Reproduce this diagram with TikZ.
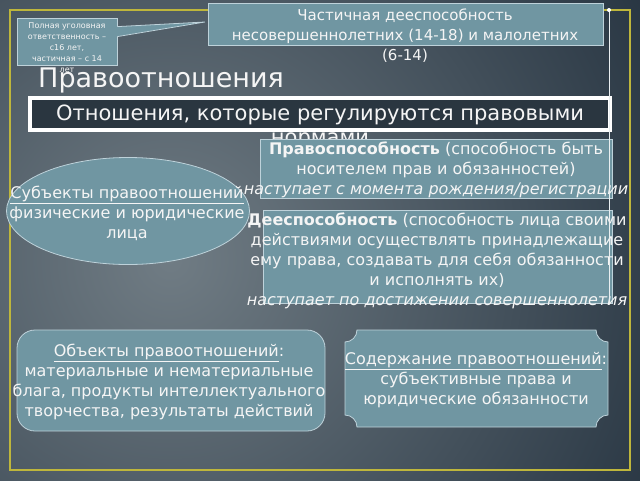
\documentclass[tikz,border=0pt]{standalone}
\usepackage{fontspec}
\setmainfont{DejaVu Sans}
\usetikzlibrary{shapes.geometric,positioning,calc}

\definecolor{bgin}{RGB}{112,124,132}
\definecolor{bgout}{RGB}{20,34,48}
\definecolor{frameyel}{RGB}{190,182,60}
\definecolor{panel}{RGB}{112,150,162}
\definecolor{panelline}{RGB}{190,210,218}
\definecolor{bandfill}{RGB}{42,54,64}
\definecolor{ink}{RGB}{245,245,245}

\begin{document}
\begin{tikzpicture}[x=1pt, y=-1pt,
    panelbox/.style={fill=panel, draw=panelline, line width=0.8pt, inner sep=0pt},
    txt/.style={text=ink, align=center, inner sep=0pt, font=\fontsize{16}{20}\selectfont},
    small/.style={txt, font=\fontsize{8}{11}\selectfont},
    band/.style={draw=white, line width=4pt, fill=bandfill, inner sep=0pt}]

  \useasboundingbox (0,0) rectangle (640,480);
  \begin{scope}
    \clip (0,0) rectangle (640,480);
    \shade[inner color=bgin, outer color=bgout] (170,260) circle (700);
  \end{scope}
  \draw[frameyel, line width=1.5pt] (10,10) rectangle (630,470);

  \node[txt, anchor=west, font=\fontsize{27}{32}\selectfont] (title) at (38,80) {Правоотношения};
  \node[band, minimum width=580pt, minimum height=32pt] (band) at (320,114) {};
  \node[txt, font=\fontsize{21}{24}\selectfont] (bandtext) at (320,127)
    {Отношения, которые регулируются правовыми\\нормами};

  \node[panelbox, ellipse, minimum width=243pt, minimum height=107pt] (subj) at (128,211) {};
  \node[txt] (subjtext) at (127,213)
    {\underline{Субъекты правоотношений}\\физические и юридические\\лица};

  \node[panelbox, minimum width=352pt, minimum height=59pt] (legcap) at (436,168.5) {};
  \node[panelbox, minimum width=349pt, minimum height=93pt] (actcap) at (437.5,256.5) {};
  \node[txt] (legcaptext) at (436,170)
    {\textbf{Правоспособность} (способность быть\\носителем прав и обязанностей)\\
     \textit{наступает с момента рождения/регистрации}};
  \node[txt] (actcaptext) at (437,261)
    {\textbf{Дееспособность} (способность лица своими\\действиями осуществлять принадлежащие\\
     ему права, создавать для себя обязанности\\и исполнять их)\\
     \textit{наступает по достижении совершеннолетия}};

  \node[panelbox, rounded corners=18pt, minimum width=308pt, minimum height=101pt] (obj) at (171,380.5) {};
  \node[txt] (objtext) at (169,382)
    {\underline{Объекты правоотношений}:\\материальные и нематериальные\\
     блага, продукты интеллектуального\\творчества, результаты действий};

  \filldraw[panelbox] (357,330) -- (596,330) arc[start angle=180, end angle=90, radius=12]
    -- (608,415) arc[start angle=270, end angle=180, radius=12]
    -- (357,427) arc[start angle=0, end angle=-90, radius=12]
    -- (345,342) arc[start angle=90, end angle=0, radius=12] -- cycle;
  \node[txt] (content) at (476,380)
    {\underline{Содержание правоотношений}:\\субъективные права и\\юридические обязанности};

  \node[panelbox, minimum width=395pt, minimum height=42pt] (minor) at (405.5,24) {};
  \node[txt, font=\fontsize{15}{20}\selectfont] (minortext) at (405,36)
    {Частичная дееспособность\\несовершеннолетних (14-18) и малолетних\\(6-14)};

  \node[panelbox, minimum width=100pt, minimum height=47pt] (note) at (67,41.5) {};
  \coordinate (tip) at (205,22);
  \fill[panel] ($(note.north east)+(-1,9)$) -- (tip) -- ($(note.north east)+(-1,19)$) -- cycle;
  \draw[panelline, line width=0.8pt] ($(note.north east)+(0,9)$) -- (tip) -- ($(note.north east)+(0,19)$);
  \node[small] (notetext) at (67,48)
    {Полная уголовная\\ответственность –\\с16 лет,\\частичная – с 14\\лет};

  \coordinate (leadtop) at (609,10);
  \coordinate (leadend) at (609,303);
  \draw[white!85!panel, line width=0.8pt] (leadtop) -- (leadend);
  \fill[white] (leadtop) circle (2);
\end{tikzpicture}
\end{document}
